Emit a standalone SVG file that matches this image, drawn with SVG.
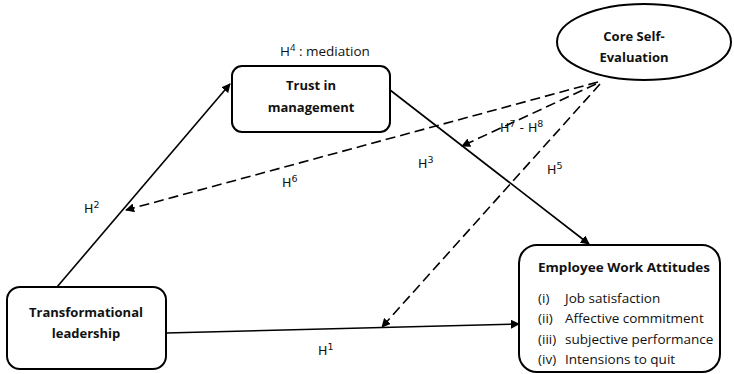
<svg xmlns="http://www.w3.org/2000/svg" width="734" height="374" viewBox="0 0 734 374">
<style>
.box{fill:#fff;stroke:#000;stroke-width:2}
.t{font-family:"Open Sans","Liberation Sans",sans-serif;font-size:13px;font-weight:bold;fill:#111;text-anchor:middle}
.n{font-family:"Open Sans","Liberation Sans",sans-serif;font-size:13.5px;fill:#111}
.h{font-family:"DejaVu Sans",sans-serif;font-size:12.5px;fill:#111}
.s{font-size:9.5px}
.ln{stroke:#000;stroke-width:1.6;fill:none}
.d{stroke-dasharray:10 5}
</style>
<defs>
<marker id="ah" viewBox="0 0 10 10" refX="9" refY="5" markerWidth="9" markerHeight="9" markerUnits="userSpaceOnUse" orient="auto">
<path d="M0,0 L10,5 L0,10 z" fill="#000"/>
</marker>
</defs>
<rect width="734" height="374" fill="#fff"/>
<g id="connectors">
<line class="ln" x1="57" y1="287" x2="230" y2="84" marker-end="url(#ah)"/>
<line class="ln" x1="390" y1="90" x2="589" y2="244" marker-end="url(#ah)"/>
<line class="ln" x1="166" y1="333" x2="519" y2="324" marker-end="url(#ah)"/>
<line class="ln d" x1="598" y1="82" x2="126" y2="210" marker-end="url(#ah)"/>
<line class="ln d" x1="596" y1="84" x2="462" y2="146" marker-end="url(#ah)"/>
<line class="ln d" x1="600" y1="84" x2="382" y2="327" marker-end="url(#ah)"/>
</g>
<g id="labels">
<text class="h" x="84" y="213">H<tspan class="s" dy="-5">2</tspan></text>
<text class="h" x="282" y="187">H<tspan class="s" dy="-5">6</tspan></text>
<text class="h" x="418" y="168">H<tspan class="s" dy="-5">3</tspan></text>
<text class="h" x="500" y="132">H<tspan class="s" dy="-5">7</tspan><tspan dy="5"> - H</tspan><tspan class="s" dy="-5">8</tspan></text>
<text class="h" x="547" y="174">H<tspan class="s" dy="-5">5</tspan></text>
<text class="h" x="318" y="355">H<tspan class="s" dy="-5">1</tspan></text>
<text class="n" x="280" y="56">H<tspan class="s" dy="-5">4</tspan><tspan dy="5"> : mediation</tspan></text>
</g>
<g id="transformational-leadership">
<rect class="box" x="7" y="287" width="159" height="82" rx="13"/>
<text class="t" x="86" y="317">Transformational</text>
<text class="t" x="86" y="338">leadership</text>
</g>
<g id="trust-in-management">
<rect class="box" x="232" y="66" width="158" height="66" rx="10"/>
<text class="t" x="311" y="90">Trust in</text>
<text class="t" x="311" y="112">management</text>
</g>
<g id="core-self-evaluation">
<ellipse class="box" cx="644" cy="42" rx="87" ry="38"/>
<text class="t" x="634" y="41">Core Self-</text>
<text class="t" x="634" y="62">Evaluation</text>
</g>
<g id="employee-work-attitudes">
<rect class="box" x="519" y="245" width="201" height="127" rx="18"/>
<text class="t" x="624" y="272" textLength="172" lengthAdjust="spacingAndGlyphs">Employee Work Attitudes</text>
<text class="n" x="538" y="303">(i)</text><text class="n" x="565" y="303">Job satisfaction</text>
<text class="n" x="538" y="323">(ii)</text><text class="n" x="565" y="323">Affective commitment</text>
<text class="n" x="538" y="344">(iii)</text><text class="n" x="565" y="344">subjective performance</text>
<text class="n" x="538" y="364">(iv)</text><text class="n" x="565" y="364">Intensions to quit</text>
</g>
</svg>
